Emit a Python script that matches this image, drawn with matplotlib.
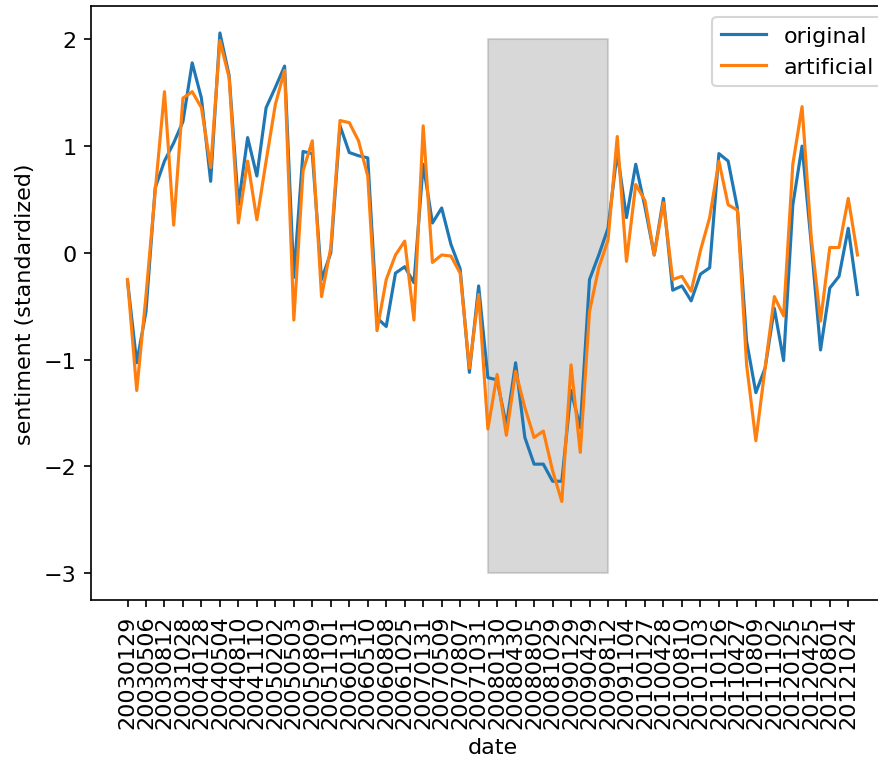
import matplotlib
matplotlib.use("Agg")
import matplotlib.pyplot as plt

dates = [
    "20030129", "20030318", "20030506", "20030625", "20030812", "20030916", "20031028", "20031209",
    "20040128", "20040316", "20040504", "20040630", "20040810", "20040921", "20041110", "20041214",
    "20050202", "20050322", "20050503", "20050630", "20050809", "20050920", "20051101", "20051213",
    "20060131", "20060328", "20060510", "20060629", "20060808", "20060920", "20061025", "20061212",
    "20070131", "20070321", "20070509", "20070628", "20070807", "20070918", "20071031", "20071211",
    "20080130", "20080318", "20080430", "20080625", "20080805", "20080916", "20081029", "20081216",
    "20090129", "20090318", "20090429", "20090624", "20090812", "20090923", "20091104", "20091216",
    "20100127", "20100316", "20100428", "20100623", "20100810", "20100921", "20101103", "20101214",
    "20110126", "20110315", "20110427", "20110622", "20110809", "20110921", "20111102", "20111213",
    "20120125", "20120313", "20120425", "20120620", "20120801", "20120913", "20121024", "20121212",
]

original = [
    -0.26, -1.03, -0.55, 0.61, 0.86, 1.03, 1.23, 1.78, 1.45, 0.67,
    2.06, 1.66, 0.45, 1.08, 0.72, 1.36, 1.55, 1.75, -0.23, 0.95,
    0.93, -0.25, 0.00, 1.19, 0.94, 0.91, 0.89, -0.61, -0.69, -0.19,
    -0.13, -0.28, 0.83, 0.28, 0.42, 0.08, -0.15, -1.12, -0.31, -1.17,
    -1.19, -1.62, -1.03, -1.73, -1.98, -1.98, -2.14, -2.14, -1.29, -1.64,
    -0.25, -0.02, 0.23, 0.94, 0.33, 0.83, 0.43, -0.02, 0.51, -0.35,
    -0.31, -0.45, -0.20, -0.14, 0.93, 0.86, 0.42, -0.83, -1.31, -1.08,
    -0.52, -1.01, 0.45, 1.00, 0.08, -0.91, -0.33, -0.22, 0.23, -0.39,
]

artificial = [
    -0.25, -1.29, -0.40, 0.58, 1.51, 0.26, 1.45, 1.51, 1.36, 0.80,
    1.99, 1.64, 0.28, 0.86, 0.31, 0.86, 1.39, 1.71, -0.63, 0.77,
    1.05, -0.41, 0.05, 1.24, 1.22, 1.05, 0.72, -0.73, -0.25, -0.02,
    0.11, -0.63, 1.19, -0.09, -0.02, -0.03, -0.19, -1.08, -0.39, -1.65,
    -1.14, -1.71, -1.11, -1.45, -1.73, -1.67, -2.04, -2.33, -1.05, -1.87,
    -0.55, -0.14, 0.12, 1.09, -0.08, 0.64, 0.49, -0.02, 0.47, -0.25,
    -0.22, -0.36, 0.02, 0.33, 0.86, 0.45, 0.40, -1.05, -1.76, -1.08,
    -0.41, -0.59, 0.83, 1.37, 0.14, -0.64, 0.05, 0.05, 0.51, -0.02,
]

# recession shading (index range into dates)
rec_start, rec_end = 39, 52

plt.rcParams["font.size"] = 10.6

dpi = 151
fig = plt.figure(figsize=(878 / dpi, 762 / dpi), dpi=dpi)
# axes run a bit past the right edge, like the cropped original
ax = fig.add_axes([91 / 878, 161 / 762, 803 / 878, 594 / 762])

x = list(range(len(dates)))
ax.fill_between(x[rec_start:rec_end + 1], -3, 2, color="grey", alpha=0.3, zorder=1)
ax.plot(x, original, label="original", zorder=2)
ax.plot(x, artificial, label="artificial", zorder=2)

ax.set_xticks(x[::2])
ax.set_xticklabels(dates[::2], rotation=90)
ax.set_xlabel("date")
ax.set_ylabel("sentiment (standardized)")
ax.legend(loc="upper right", fontsize=10.6)

fig.savefig("out.png", dpi=dpi)
